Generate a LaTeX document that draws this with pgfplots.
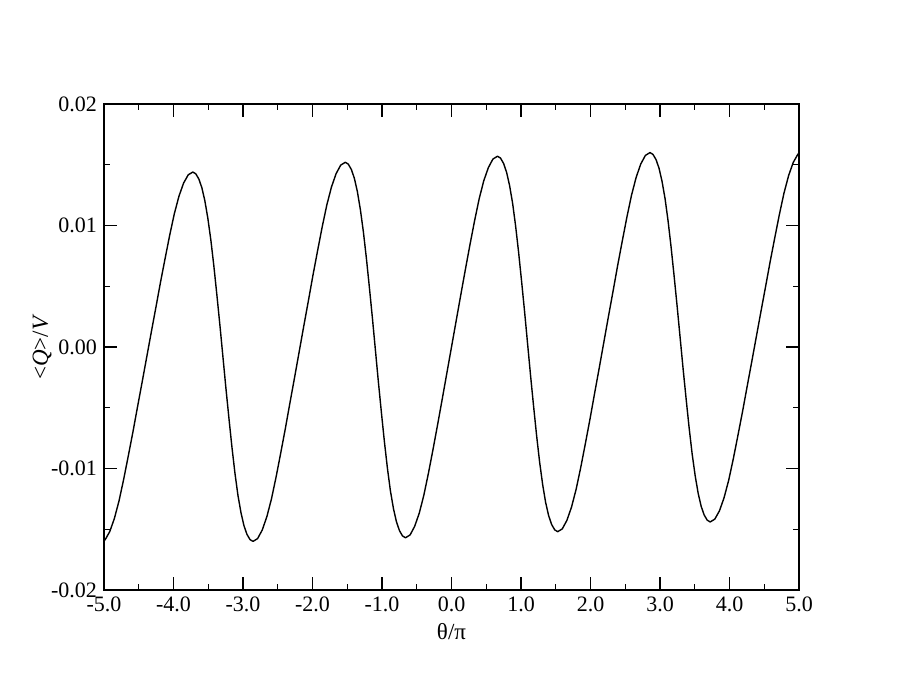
\documentclass[border=0pt]{standalone}
\usepackage{fontspec}
\setmainfont{Liberation Serif}
\usepackage{pgfplots}
\usepackage{pgfplotstable}
\pgfplotsset{compat=1.18}
\pgfplotstableread{
x y
-5.050 -0.01610
-4.984 -0.01587
-4.917 -0.01519
-4.851 -0.01412
-4.784 -0.01267
-4.718 -0.01092
-4.652 -0.00901
-4.585 -0.00703
-4.519 -0.00497
-4.452 -0.00291
-4.386 -0.00085
-4.320 0.00121
-4.253 0.00327
-4.187 0.00533
-4.120 0.00731
-4.054 0.00922
-3.988 0.01097
-3.921 0.01242
-3.855 0.01349
-3.788 0.01417
-3.722 0.01440
-3.679 0.01425
-3.635 0.01382
-3.592 0.01311
-3.549 0.01204
-3.506 0.01060
-3.462 0.00878
-3.419 0.00665
-3.376 0.00429
-3.332 0.00178
-3.289 -0.00080
-3.246 -0.00338
-3.202 -0.00589
-3.159 -0.00825
-3.116 -0.01038
-3.073 -0.01220
-3.029 -0.01364
-2.986 -0.01471
-2.943 -0.01542
-2.899 -0.01585
-2.856 -0.01600
-2.790 -0.01577
-2.723 -0.01506
-2.657 -0.01397
-2.590 -0.01249
-2.524 -0.01070
-2.458 -0.00875
-2.391 -0.00672
-2.325 -0.00461
-2.258 -0.00251
-2.192 -0.00040
-2.126 0.00171
-2.059 0.00381
-1.993 0.00592
-1.926 0.00795
-1.860 0.00990
-1.794 0.01169
-1.727 0.01317
-1.661 0.01426
-1.594 0.01497
-1.528 0.01520
-1.485 0.01505
-1.441 0.01461
-1.398 0.01389
-1.355 0.01281
-1.312 0.01134
-1.268 0.00948
-1.225 0.00732
-1.182 0.00493
-1.138 0.00238
-1.095 -0.00025
-1.052 -0.00288
-1.008 -0.00543
-0.965 -0.00782
-0.922 -0.00998
-0.879 -0.01184
-0.835 -0.01331
-0.792 -0.01439
-0.749 -0.01511
-0.705 -0.01555
-0.662 -0.01570
-0.596 -0.01547
-0.530 -0.01476
-0.463 -0.01366
-0.397 -0.01217
-0.331 -0.01036
-0.265 -0.00840
-0.199 -0.00636
-0.132 -0.00424
-0.066 -0.00212
0.000 0.00000
0.066 0.00212
0.132 0.00424
0.199 0.00636
0.265 0.00840
0.331 0.01036
0.397 0.01217
0.463 0.01366
0.530 0.01476
0.596 0.01547
0.662 0.01570
0.705 0.01555
0.749 0.01511
0.792 0.01439
0.835 0.01331
0.879 0.01184
0.922 0.00998
0.965 0.00782
1.008 0.00543
1.052 0.00288
1.095 0.00025
1.138 -0.00238
1.182 -0.00493
1.225 -0.00732
1.268 -0.00948
1.312 -0.01134
1.355 -0.01281
1.398 -0.01389
1.441 -0.01461
1.485 -0.01505
1.528 -0.01520
1.594 -0.01497
1.661 -0.01426
1.727 -0.01317
1.794 -0.01169
1.860 -0.00990
1.926 -0.00795
1.993 -0.00592
2.059 -0.00381
2.126 -0.00171
2.192 0.00040
2.258 0.00251
2.325 0.00461
2.391 0.00672
2.458 0.00875
2.524 0.01070
2.590 0.01249
2.657 0.01397
2.723 0.01506
2.790 0.01577
2.856 0.01600
2.899 0.01585
2.943 0.01542
2.986 0.01471
3.029 0.01364
3.073 0.01220
3.116 0.01038
3.159 0.00825
3.202 0.00589
3.246 0.00338
3.289 0.00080
3.332 -0.00178
3.376 -0.00429
3.419 -0.00665
3.462 -0.00878
3.506 -0.01060
3.549 -0.01204
3.592 -0.01311
3.635 -0.01382
3.679 -0.01425
3.722 -0.01440
3.788 -0.01417
3.855 -0.01349
3.921 -0.01242
3.988 -0.01097
4.054 -0.00922
4.120 -0.00731
4.187 -0.00533
4.253 -0.00327
4.320 -0.00121
4.386 0.00085
4.452 0.00291
4.519 0.00497
4.585 0.00703
4.652 0.00901
4.718 0.01092
4.784 0.01267
4.851 0.01412
4.917 0.01519
4.984 0.01587
5.050 0.01610
}\qdata
\begin{document}
\begin{tikzpicture}
\useasboundingbox (-52pt,-52.5pt) rectangle (398pt,295pt);
\begin{axis}[
  at={(0,0)}, anchor=south west,
  scale only axis, width=347.5pt, height=243pt,
  xmin=-5, xmax=5, ymin=-0.02, ymax=0.02,
  xtick={-5,-4,-3,-2,-1,0,1,2,3,4,5},
  xticklabels={-5.0,-4.0,-3.0,-2.0,-1.0,0.0,1.0,2.0,3.0,4.0,5.0},
  ytick={-0.02,-0.01,0,0.01,0.02},
  yticklabels={-0.02,-0.01,0.00,0.01,0.02},
  scaled y ticks=false, scaled x ticks=false,
  minor x tick num=1, minor y tick num=1,
  tick align=inside,
  major tick length=6.5pt, minor tick length=3pt,
  axis line style={line width=0.8pt},
  every tick/.style={black, line width=0.6pt},
  tick label style={font=\fontsize{11}{13}\selectfont},
  every axis x label/.style={at={(axis description cs:0.5,-0.0864)}, anchor=center, font=\fontsize{11.5}{14}\selectfont},
  every axis y label/.style={at={(axis description cs:-0.089,0.5)}, anchor=center, rotate=90, font=\fontsize{11.5}{14}\selectfont},
  xlabel={θ/π},
  ylabel={<\textit{Q}>/\textit{V}},
]
\addplot[black, line width=0.7pt, line join=round] table[x=x,y=y] {\qdata};
\end{axis}
\end{tikzpicture}
\end{document}
